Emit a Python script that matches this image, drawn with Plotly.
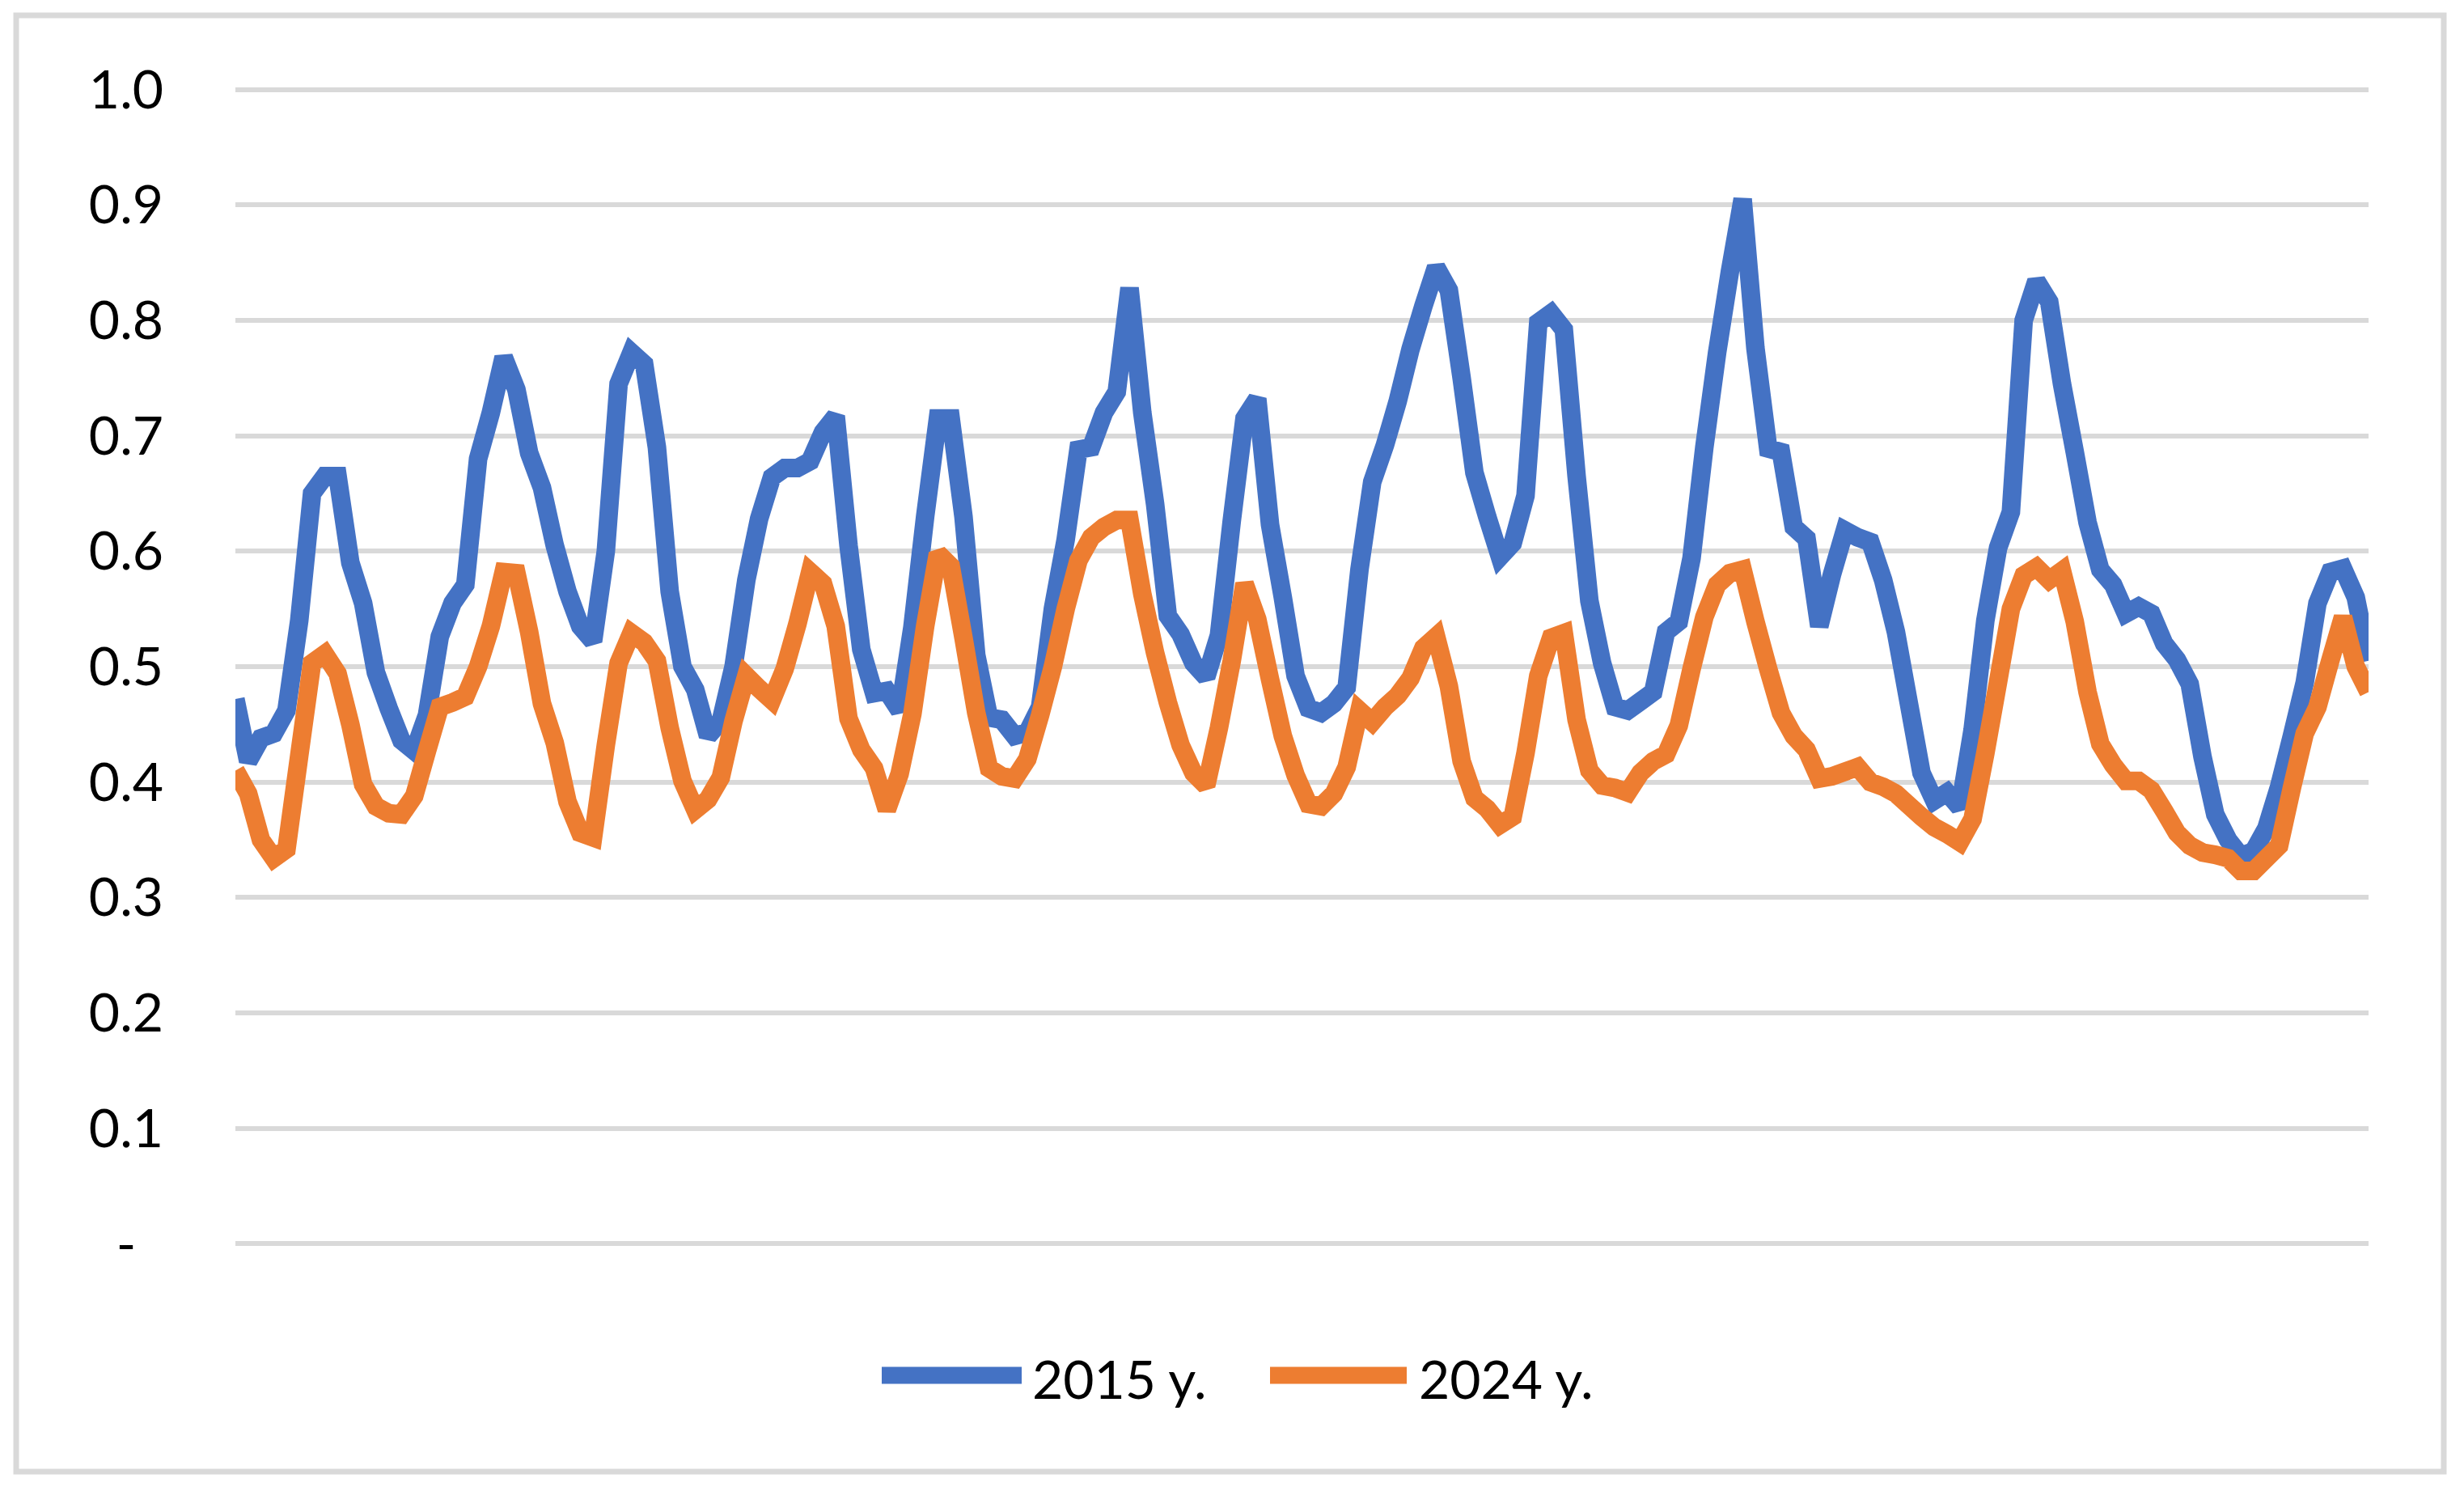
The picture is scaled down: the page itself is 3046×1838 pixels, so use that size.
import plotly.graph_objects as go

# ---- data ----
load_2015 = [
    0.472, 0.418, 0.438, 0.442, 0.462, 0.540, 0.650, 0.665, 0.665, 0.590,
    0.555, 0.495, 0.464, 0.436, 0.427, 0.458, 0.526, 0.555, 0.571, 0.680,
    0.720, 0.768, 0.740, 0.685, 0.655, 0.605, 0.565, 0.535, 0.522, 0.600,
    0.745, 0.772, 0.762, 0.690, 0.565, 0.500, 0.480, 0.440, 0.453, 0.500,
    0.575, 0.628, 0.664, 0.672, 0.672, 0.678, 0.703, 0.717, 0.605, 0.515,
    0.477, 0.479, 0.462, 0.534, 0.630, 0.715, 0.715, 0.630, 0.510, 0.456,
    0.454, 0.440, 0.443, 0.465, 0.550, 0.610, 0.688, 0.690, 0.720, 0.738,
    0.828, 0.720, 0.641, 0.544, 0.528, 0.503, 0.491, 0.527, 0.626, 0.715,
    0.732, 0.623, 0.560, 0.492, 0.464, 0.460, 0.468, 0.482, 0.584, 0.660,
    0.692, 0.730, 0.775, 0.812, 0.846, 0.826, 0.750, 0.668, 0.630, 0.595,
    0.607, 0.648, 0.798, 0.806, 0.792, 0.665, 0.557, 0.503, 0.465, 0.462,
    0.470, 0.478, 0.530, 0.539, 0.594, 0.690, 0.772, 0.842, 0.905, 0.776,
    0.689, 0.686, 0.621, 0.611, 0.535, 0.580, 0.618, 0.612, 0.608, 0.575,
    0.530, 0.469, 0.408, 0.384, 0.391, 0.378, 0.445, 0.540, 0.603, 0.634,
    0.800, 0.834, 0.816, 0.745, 0.686, 0.625, 0.584, 0.571, 0.546, 0.552,
    0.546, 0.520, 0.506, 0.485, 0.422, 0.372, 0.350, 0.336, 0.340, 0.360,
    0.396, 0.440, 0.486, 0.555, 0.582, 0.585, 0.560, 0.505,
]

load_2024 = [
    0.410, 0.390, 0.350, 0.334, 0.342, 0.423, 0.503, 0.511, 0.494, 0.450,
    0.398, 0.379, 0.373, 0.372, 0.388, 0.427, 0.465, 0.469, 0.474, 0.500,
    0.535, 0.582, 0.581, 0.530, 0.468, 0.434, 0.383, 0.356, 0.352, 0.432,
    0.503, 0.529, 0.521, 0.505, 0.447, 0.401, 0.376, 0.385, 0.404, 0.453,
    0.492, 0.481, 0.471, 0.498, 0.537, 0.582, 0.572, 0.535, 0.455, 0.428,
    0.412, 0.376, 0.407, 0.459, 0.535, 0.598, 0.587, 0.525, 0.460, 0.412,
    0.405, 0.403, 0.420, 0.458, 0.500, 0.550, 0.592, 0.612, 0.621, 0.627,
    0.627, 0.563, 0.512, 0.469, 0.432, 0.408, 0.397, 0.447, 0.505, 0.572,
    0.541, 0.489, 0.440, 0.406, 0.381, 0.379, 0.390, 0.413, 0.462, 0.452,
    0.465, 0.475, 0.490, 0.516, 0.526, 0.483, 0.418, 0.386, 0.377, 0.363,
    0.370, 0.425, 0.492, 0.525, 0.529, 0.454, 0.410, 0.397, 0.395, 0.391,
    0.408, 0.418, 0.424, 0.449, 0.498, 0.543, 0.571, 0.581, 0.584, 0.539,
    0.498, 0.460, 0.440, 0.428, 0.403, 0.405, 0.409, 0.413, 0.400, 0.396,
    0.390, 0.380, 0.370, 0.361, 0.355, 0.348, 0.368, 0.425, 0.487, 0.550,
    0.579, 0.586, 0.575, 0.583, 0.539, 0.478, 0.433, 0.415, 0.401, 0.401,
    0.393, 0.375, 0.356, 0.345, 0.339, 0.337, 0.334, 0.323, 0.323, 0.334,
    0.345, 0.395, 0.442, 0.465, 0.505, 0.543, 0.500, 0.478,
]

hours = list(range(len(load_2015)))

series_names = ["2015 y.", "2024 y."]
series_colors = ["#4472C4", "#ED7D31"]

y_tick_values = [0.0, 0.1, 0.2, 0.3, 0.4, 0.5, 0.6, 0.7, 0.8, 0.9, 1.0]
y_tick_labels = ["-\u00a0\u00a0", "0.1", "0.2", "0.3", "0.4", "0.5",
                 "0.6", "0.7", "0.8", "0.9", "1.0"]

# ---- figure geometry (pixels); page body has an 8px margin ----
OFF = 8
W, H = 3030, 1822
L = 291 - OFF
R = W - (2928 - OFF)
T = 74
B = 264
PW, PH = W - L - R, H - T - B


def px(x):
    return (x - OFF - L) / PW


def py(y):
    return (H - B - (y - OFF)) / PH


FONT = "Lato, Calibri, Carlito, 'Open Sans', sans-serif"
FSIZE = 66

fig = go.Figure()
for name, vals, col in zip(series_names, [load_2015, load_2024], series_colors):
    fig.add_trace(go.Scatter(
        x=hours, y=vals, mode="lines", name=name,
        line=dict(color=col, width=23, simplify=False),
        hoverinfo="skip", showlegend=False,
    ))

shapes = [
    dict(type="rect", xref="paper", yref="paper",
         x0=px(20), x1=px(3021), y0=py(1819), y1=py(19),
         line=dict(color="#D9D9D9", width=7), fillcolor="rgba(0,0,0,0)",
         layer="below"),
]
annotations = []
legend_items = [(1090, 1263, 1274), (1570, 1739, 1752)]
for (x0, x1, tx), name, col in zip(legend_items, series_names, series_colors):
    shapes.append(dict(type="line", xref="paper", yref="paper",
                       x0=px(x0), x1=px(x1), y0=py(1700), y1=py(1700),
                       line=dict(color=col, width=21)))
    annotations.append(dict(xref="paper", yref="paper", x=px(tx), y=py(1703),
                            text=name, showarrow=False, xanchor="left",
                            yanchor="middle",
                            font=dict(family=FONT, size=FSIZE, color="#000000")))

fig.update_layout(
    width=W, height=H,
    margin=dict(l=L, r=R, t=T, b=B, pad=0),
    paper_bgcolor="white", plot_bgcolor="white",
    showlegend=False,
    shapes=shapes, annotations=annotations,
    font=dict(family=FONT, size=FSIZE, color="#000000"),
    xaxis=dict(range=[0, len(hours) - 1], showgrid=False, zeroline=False,
               showticklabels=False, ticks="", showline=False, fixedrange=True),
    yaxis=dict(range=[-0.02, 1.02], tickmode="array",
               tickvals=y_tick_values, ticktext=y_tick_labels,
               showgrid=True, gridcolor="#D9D9D9", gridwidth=6,
               zeroline=False, showline=False, ticks="",
               ticklabelstandoff=88,
               tickfont=dict(family=FONT, size=FSIZE, color="#000000"),
               fixedrange=True),
)

fig.write_html("out.html")
